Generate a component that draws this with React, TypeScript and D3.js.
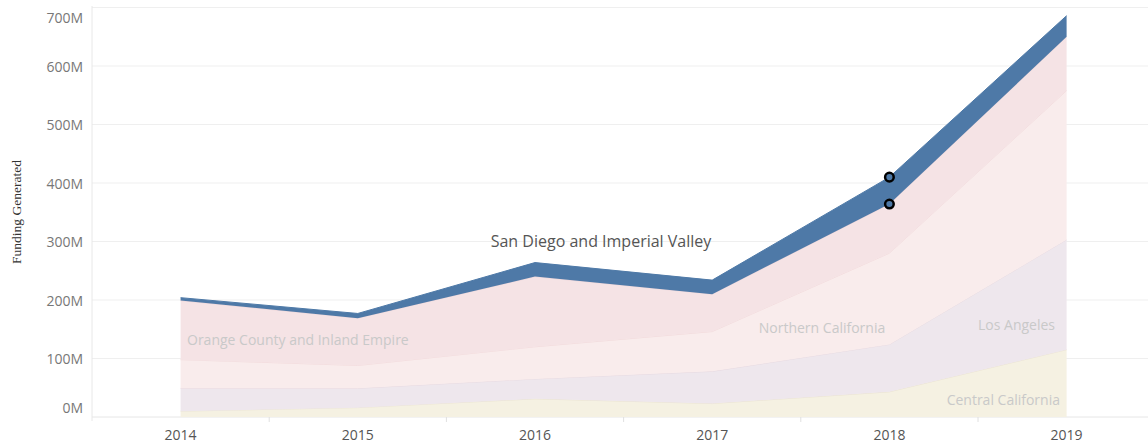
import * as d3 from "d3";

const years = ["2014", "2015", "2016", "2017", "2018", "2019"];
// funding per region, millions
const centralCalifornia = [10, 16, 31, 23, 43, 115];
const losAngeles = [39, 33, 34, 55, 81, 188];
const northernCalifornia = [49, 39, 55, 68, 156, 255];
const orangeCounty = [101, 81, 120, 64, 84, 92];
const sanDiego = [5, 8, 24, 24, 46, 36];

const regionNames = [
  "Central California",
  "Los Angeles",
  "Northern California",
  "Orange County and Inland Empire",
  "San Diego and Imperial Valley",
];
const regionValues = [centralCalifornia, losAngeles, northernCalifornia, orangeCounty, sanDiego];
const yTicks = [0, 100, 200, 300, 400, 500, 600, 700];

const fills: Record<string, string> = {
  "Central California": "#f5f1e2",
  "Los Angeles": "#eee7ed",
  "Northern California": "#f9ecec",
  "Orange County and Inland Empire": "#f5e3e5",
  "San Diego and Imperial Valley": "#4e79a7",
};
const edges: Record<string, string> = {
  "Central California": "#ece5d4",
  "Los Angeles": "#e8dbe2",
  "Northern California": "#f3dcdd",
  "Orange County and Inland Empire": "#efd6d9",
  "San Diego and Imperial Valley": "#4e79a7",
};

const W = 1148;
const H = 444;

export default function App() {
  const rows = years.map((yr, i) => {
    const r: Record<string, number | string> = { year: yr };
    regionNames.forEach((n, k) => (r[n] = regionValues[k][i]));
    return r;
  });

  const series = d3.stack<Record<string, number | string>>().keys(regionNames)(rows as any);

  const x = d3.scaleBand<string>().domain(years).range([92, 92 + 177.2 * 6]);
  const cx = (yr: string) => (x(yr) as number) + x.bandwidth() / 2;
  const y = d3.scaleLinear().domain([0, 700]).range([417, 7.5]);

  const area = d3
    .area<any>()
    .x((d) => cx(d.data.year))
    .y0((d) => y(d[0]))
    .y1((d) => y(d[1]));
  const topLine = d3
    .line<any>()
    .x((d) => cx(d.data.year))
    .y((d) => y(d[1]));

  const sd = series[4];
  const i2018 = years.indexOf("2018");

  const fadedLabel = "#c9c9c9";
  const font = "'Open Sans', sans-serif";

  return (
    <svg width={W} height={H} style={{ position: "absolute", left: 0, top: 0 }}>
      <rect width={W} height={H} fill="#fff" />
      {yTicks.map((t) => (
        <line key={t} x1={92} x2={W} y1={y(t)} y2={y(t)} stroke={t === 0 ? "#e6e6e6" : "#efefef"} strokeWidth={1} />
      ))}
      <line x1={92} x2={92} y1={6} y2={421} stroke="#e8e8e8" />
      {years.slice(1).map((yr) => (
        <line key={yr} x1={x(yr)} x2={x(yr)} y1={417} y2={422} stroke="#e0e0e0" />
      ))}

      {series.map((s) => (
        <g key={s.key}>
          <path d={area(s) as string} fill={fills[s.key]} />
          <path d={topLine(s) as string} fill="none" stroke={edges[s.key]} strokeWidth={1} />
        </g>
      ))}

      {[sd[i2018][1], sd[i2018][0]].map((v, k) => (
        <circle key={k} cx={cx("2018")} cy={y(v)} r={4.3} fill="#4e79a7" stroke="#000" strokeWidth={2.5} />
      ))}

      {yTicks.map((t) => (
        <text
          key={t}
          x={83}
          y={y(t) + (t === 700 ? 10 : t === 0 ? -10 : 0)}
          textAnchor="end"
          dominantBaseline="central"
          fontFamily={font}
          fontSize={14}
          fill="#777"
        >
          {`${t}M`}
        </text>
      ))}
      {years.map((yr) => (
        <text key={yr} x={cx(yr)} y={434} textAnchor="middle" dominantBaseline="central" fontFamily={font} fontSize={14} fill="#555">
          {yr}
        </text>
      ))}
      <text
        transform={`translate(16,212) rotate(-90)`}
        textAnchor="middle"
        dominantBaseline="central"
        fontFamily="'Liberation Serif', serif"
        fontSize={13.5}
        fill="#333"
      >
        Funding Generated
      </text>

      <text x={601} y={241} textAnchor="middle" dominantBaseline="central" fontFamily={font} fontSize={16} fill="#555">
        San Diego and Imperial Valley
      </text>
      <text x={187} y={339} dominantBaseline="central" fontFamily={font} fontSize={14} fill={fadedLabel}>
        Orange County and Inland Empire
      </text>
      <text x={822} y={327} textAnchor="middle" dominantBaseline="central" fontFamily={font} fontSize={14} fill={fadedLabel}>
        Northern California
      </text>
      <text x={1055} y={324} textAnchor="end" dominantBaseline="central" fontFamily={font} fontSize={14} fill={fadedLabel}>
        Los Angeles
      </text>
      <text x={1060} y={399} textAnchor="end" dominantBaseline="central" fontFamily={font} fontSize={14} fill={fadedLabel}>
        Central California
      </text>
    </svg>
  );
}
